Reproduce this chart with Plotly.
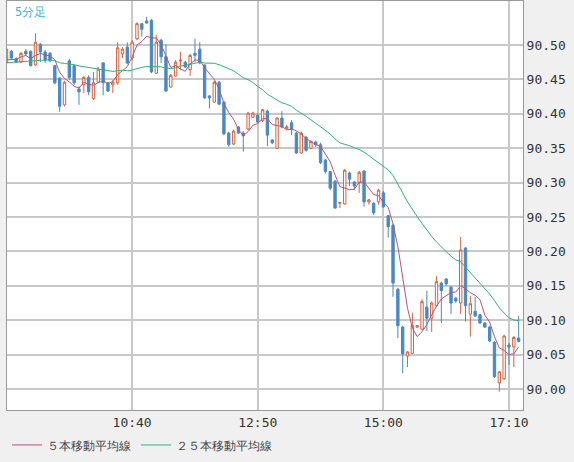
import pandas as pd
import plotly.graph_objs as go

# 5-minute bars, 08:30 .. 17:20
times = pd.date_range('2024-01-01 08:30', periods=107, freq='5min').strftime('%H:%M').tolist()

opens = [90.474, 90.491, 90.480, 90.475, 90.491, 90.491, 90.471, 90.501, 90.490, 90.488,
         90.470, 90.452, 90.413, 90.477, 90.470, 90.436, 90.442, 90.453, 90.422, 90.446,
         90.474, 90.445, 90.442, 90.445, 90.487, 90.497, 90.481, 90.509, 90.531, 90.535,
         90.536, 90.459, 90.507, 90.483, 90.439, 90.455, 90.477, 90.475, 90.464, 90.488,
         90.494, 90.471, 90.426, 90.417, 90.446, 90.417, 90.372, 90.356, 90.381, 90.372,
         90.378, 90.395, 90.398, 90.390, 90.404, 90.362, 90.350, 90.394, 90.379, 90.387,
         90.372, 90.343, 90.366, 90.350, 90.359, 90.355, 90.333, 90.316, 90.302, 90.270,
         90.269, 90.314, 90.301, 90.300, 90.317, 90.272, 90.270, 90.272, 90.285, 90.252,
         90.238, 90.145, 90.090, 90.048, 90.052, 90.090, 90.087, 90.119, 90.103, 90.121,
         90.154, 90.160, 90.148, 90.132, 90.125, 90.205, 90.109, 90.113, 90.108, 90.096,
         90.090, 90.068, 90.009, 90.015, 90.064, 90.061, 90.074]
highs = [90.497, 90.493, 90.482, 90.490, 90.494, 90.492, 90.517, 90.503, 90.493, 90.490,
         90.471, 90.453, 90.448, 90.480, 90.471, 90.440, 90.455, 90.456, 90.461, 90.468,
         90.475, 90.446, 90.449, 90.504, 90.497, 90.504, 90.507, 90.533, 90.532, 90.541,
         90.538, 90.515, 90.509, 90.501, 90.458, 90.478, 90.490, 90.477, 90.487, 90.509,
         90.504, 90.472, 90.427, 90.448, 90.448, 90.419, 90.374, 90.377, 90.382, 90.375,
         90.403, 90.403, 90.401, 90.407, 90.406, 90.363, 90.395, 90.404, 90.384, 90.391,
         90.374, 90.374, 90.368, 90.361, 90.361, 90.358, 90.334, 90.317, 90.304, 90.272,
         90.320, 90.316, 90.302, 90.317, 90.318, 90.276, 90.272, 90.291, 90.288, 90.253,
         90.240, 90.147, 90.092, 90.055, 90.111, 90.093, 90.131, 90.143, 90.127, 90.164,
         90.156, 90.161, 90.150, 90.134, 90.221, 90.206, 90.135, 90.134, 90.109, 90.097,
         90.092, 90.070, 90.026, 90.079, 90.067, 90.077, 90.106]
lows = [90.472, 90.480, 90.474, 90.474, 90.485, 90.469, 90.470, 90.475, 90.474, 90.475,
        90.443, 90.403, 90.411, 90.449, 90.442, 90.413, 90.430, 90.427, 90.420, 90.445,
        90.427, 90.432, 90.430, 90.442, 90.481, 90.472, 90.478, 90.507, 90.512, 90.531,
        90.459, 90.458, 90.474, 90.432, 90.438, 90.454, 90.464, 90.467, 90.455, 90.475,
        90.472, 90.422, 90.408, 90.416, 90.413, 90.369, 90.352, 90.355, 90.371, 90.345,
        90.376, 90.394, 90.387, 90.388, 90.353, 90.356, 90.349, 90.379, 90.377, 90.369,
        90.342, 90.342, 90.345, 90.349, 90.352, 90.327, 90.313, 90.289, 90.262, 90.263,
        90.268, 90.295, 90.289, 90.285, 90.265, 90.268, 90.253, 90.268, 90.263, 90.220,
        90.134, 90.074, 90.023, 90.032, 90.051, 90.089, 90.086, 90.084, 90.083, 90.119,
        90.096, 90.150, 90.109, 90.125, 90.109, 90.098, 90.076, 90.105, 90.095, 90.089,
        90.068, 90.016, 89.996, 90.013, 90.035, 90.032, 90.068]
closes = [90.494, 90.481, 90.475, 90.488, 90.487, 90.470, 90.504, 90.490, 90.478, 90.477,
          90.445, 90.411, 90.446, 90.453, 90.445, 90.432, 90.453, 90.432, 90.445, 90.465,
          90.445, 90.433, 90.446, 90.496, 90.494, 90.474, 90.504, 90.531, 90.523, 90.532,
          90.461, 90.504, 90.483, 90.433, 90.456, 90.475, 90.478, 90.468, 90.485, 90.485,
          90.474, 90.423, 90.423, 90.446, 90.414, 90.371, 90.355, 90.375, 90.372, 90.368,
          90.401, 90.401, 90.388, 90.406, 90.369, 90.358, 90.394, 90.381, 90.381, 90.377,
          90.343, 90.372, 90.347, 90.360, 90.355, 90.329, 90.316, 90.292, 90.263, 90.271,
          90.318, 90.305, 90.295, 90.315, 90.272, 90.275, 90.256, 90.289, 90.265, 90.236,
          90.154, 90.092, 90.051, 90.054, 90.092, 90.092, 90.127, 90.103, 90.125, 90.156,
          90.143, 90.153, 90.125, 90.128, 90.202, 90.121, 90.124, 90.106, 90.096, 90.090,
          90.070, 90.018, 90.025, 90.077, 90.061, 90.075, 90.069]
# closes before the visible window (seed for the 25-bar average)
prior_closes = [90.470, 90.475, 90.468, 90.472, 90.480, 90.476, 90.470, 90.465, 90.471, 90.478,
                90.482, 90.474, 90.469, 90.473, 90.477, 90.480, 90.472, 90.468, 90.470, 90.476,
                90.479, 90.474, 90.471, 90.475]

tick_idx = [26, 52, 78, 104]
tick_labels = ['10:40', '12:50', '15:00', '17:10']
y_ticks = [90.00, 90.05, 90.10, 90.15, 90.20, 90.25, 90.30, 90.35, 90.40, 90.45, 90.50]

idx = list(range(len(closes)))
all_close = pd.Series(prior_closes + closes)
ma5 = all_close.rolling(5).mean().iloc[len(prior_closes):].tolist()
ma25 = all_close.rolling(25).mean().iloc[len(prior_closes):].tolist()

fig = go.Figure()
fig.add_trace(go.Candlestick(
    x=idx, open=opens, high=highs, low=lows, close=closes,
    increasing=dict(line=dict(color='#d9603b', width=1), fillcolor='white'),
    decreasing=dict(line=dict(color='#4a89c0', width=1), fillcolor='#4a89c0'),
    whiskerwidth=0, showlegend=False, hoverinfo='skip'))
fig.add_trace(go.Scatter(x=idx, y=ma5, mode='lines', name='５本移動平均線',
                         line=dict(color='#b5527f', width=1)))
fig.add_trace(go.Scatter(x=idx, y=ma25, mode='lines', name='２５本移動平均線',
                         line=dict(color='#2db37a', width=1)))

fig.add_annotation(text='5分足', xref='paper', yref='paper', x=0.012, y=0.995,
                   xanchor='left', yanchor='top', showarrow=False,
                   font=dict(color='#33b5e5', size=12))

fig.update_layout(
    width=574, height=462, margin=dict(l=7, r=51, t=1, b=52, autoexpand=False),
    paper_bgcolor='#f0f0f0', plot_bgcolor='white',
    font=dict(family='DejaVu Sans Mono', size=13, color='#333'),
    legend=dict(orientation='h', x=0.0, y=-0.05, xanchor='left', yanchor='top',
                font=dict(family='DejaVu Sans', size=12, color='#444'),
                bgcolor='rgba(0,0,0,0)'),
    xaxis=dict(range=[0.1, 106.9], tickvals=tick_idx, ticktext=tick_labels,
               showgrid=True, gridcolor='#c8c8c8', gridwidth=1.5,
               rangeslider=dict(visible=False),
               showline=True, linecolor='#999999', mirror=True, ticks='', zeroline=False),
    yaxis=dict(range=[89.9695, 90.564], tickvals=y_ticks, tickformat='.2f', side='right',
               showgrid=True, gridcolor='#c8c8c8', gridwidth=1.5,
               showline=True, linecolor='#999999',
               mirror=True, ticks='', zeroline=False),
)
fig.write_html('out.html', config={'displayModeBar': False},
               post_script="document.body.style.margin='0';")
